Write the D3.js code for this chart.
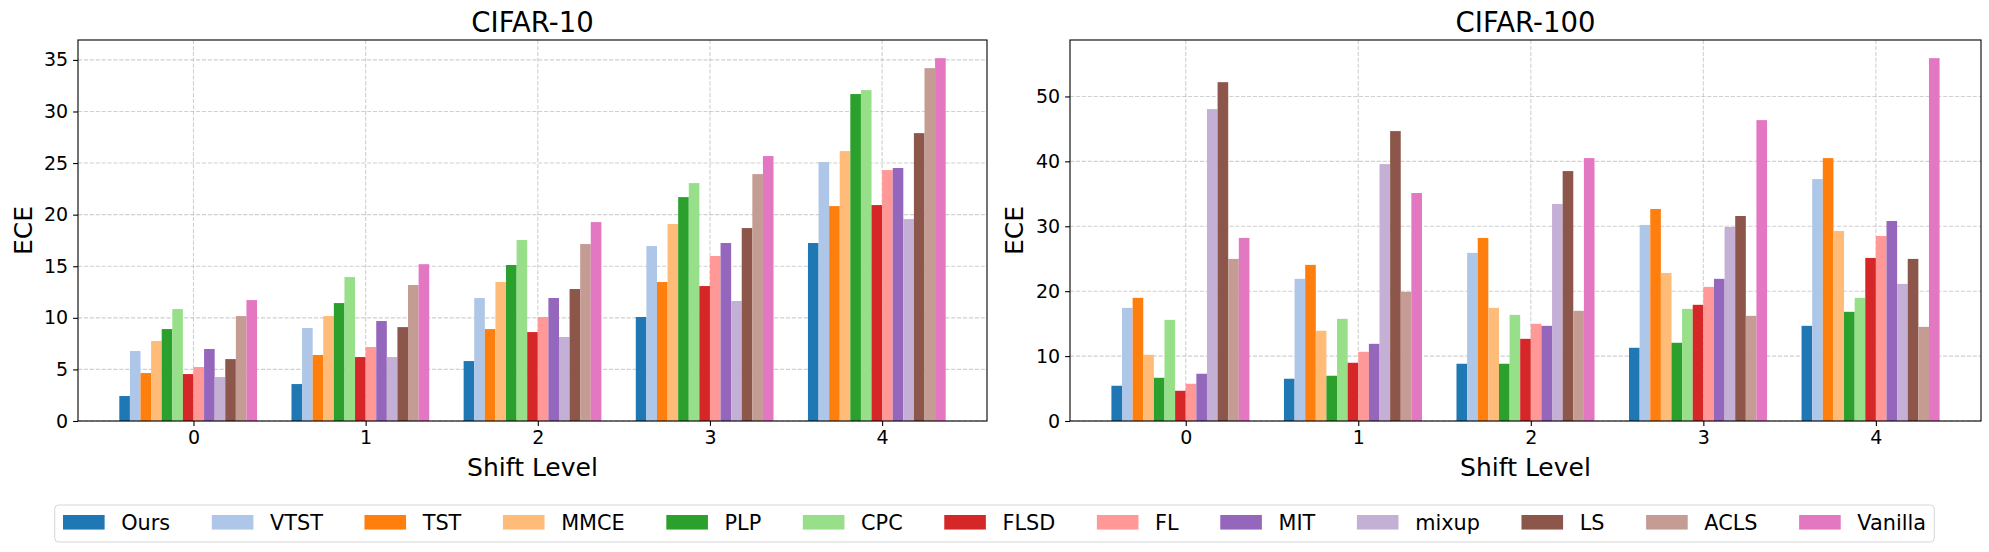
<!DOCTYPE html>
<meta charset="utf-8" />
<script src="https://d3js.org/d3.v7.js"></script>
<style>
  body { margin: 0; background: #fff; }
  text { font-family: "DejaVu Sans", sans-serif; fill: #000; }
</style>
<div id="chart"></div>
<script>
  // methods and colours (tab20)
  const methods = ["Ours", "VTST", "TST", "MMCE", "PLP", "CPC", "FLSD", "FL", "MIT", "mixup", "LS", "ACLS", "Vanilla"];
  const colors = ["#1f77b4", "#aec7e8", "#ff7f0e", "#ffbb78", "#2ca02c", "#98df8a", "#d62728",
    "#ff9896", "#9467bd", "#c5b0d5", "#8c564b", "#c49c94", "#e377c2"];
  const shiftLevels = [0, 1, 2, 3, 4];

  // ECE per method (rows follow `methods`), columns = shift level 0..4
  const cifar10 = [
    [2.42, 3.58, 5.81, 10.08, 17.25],
    [6.78, 9.01, 11.92, 16.96, 25.1],
    [4.65, 6.4, 8.91, 13.47, 20.83],
    [7.75, 10.17, 13.47, 19.09, 26.16],
    [8.91, 11.43, 15.12, 21.7, 31.69],
    [10.85, 13.95, 17.54, 23.06, 32.07],
    [4.55, 6.2, 8.62, 13.08, 20.93],
    [5.23, 7.17, 10.08, 15.99, 24.32],
    [6.98, 9.69, 11.92, 17.25, 24.52],
    [4.26, 6.2, 8.14, 11.63, 19.57],
    [6.0, 9.1, 12.79, 18.7, 27.9],
    [10.17, 13.18, 17.15, 23.93, 34.2],
    [11.72, 15.2, 19.28, 25.68, 35.17]
  ];
  const cifar100 = [
    [5.43, 6.51, 8.82, 11.28, 14.66],
    [17.43, 21.9, 25.9, 30.2, 37.27],
    [18.97, 24.05, 28.2, 32.66, 40.5],
    [10.2, 13.9, 17.43, 22.8, 29.28],
    [6.66, 6.97, 8.82, 12.05, 16.82],
    [15.58, 15.74, 16.35, 17.28, 18.97],
    [4.66, 8.97, 12.66, 17.9, 25.12],
    [5.74, 10.66, 14.97, 20.66, 28.5],
    [7.28, 11.89, 14.66, 21.9, 30.81],
    [48.05, 39.58, 33.43, 29.89, 21.12],
    [52.2, 44.66, 38.5, 31.58, 24.97],
    [24.97, 19.9, 16.97, 16.2, 14.5],
    [28.2, 35.12, 40.5, 46.35, 55.9]
  ];
  const yTicks10 = [0, 5, 10, 15, 20, 25, 30, 35];
  const yTicks100 = [0, 10, 20, 30, 40, 50];

  const W = 1989, H = 552;
  const plotTop = 40, plotBottom = 421;
  const barW = 0.8 / methods.length;

  const svg = d3.select("#chart").append("svg")
    .attr("width", W)
    .attr("height", H);

  function drawPanel(title, data, yTicks, left, right, labelX) {
    const g = svg.append("g");

    // x domain like matplotlib: bar extent plus 5% margins
    const lo = shiftLevels[0] - 0.4 - barW / 2;
    const hi = shiftLevels[shiftLevels.length - 1] - 0.4 + (methods.length - 1) * barW + barW / 2;
    const m = (hi - lo) * 0.05;
    const x = d3.scaleLinear().domain([lo - m, hi + m]).range([left, right]);

    const ymax = d3.max(data, (r) => d3.max(r)) * 1.05;
    const y = d3.scaleLinear().domain([0, ymax]).range([plotBottom, plotTop]);

    // grid
    g.append("g").selectAll("line").data(yTicks).join("line")
      .attr("x1", left).attr("x2", right)
      .attr("y1", (d) => y(d)).attr("y2", (d) => y(d))
      .attr("stroke", "#b0b0b0").attr("stroke-opacity", 0.6)
      .attr("stroke-width", 1.1).attr("stroke-dasharray", "4.1,1.8");
    g.append("g").selectAll("line").data(shiftLevels).join("line")
      .attr("x1", (d) => x(d)).attr("x2", (d) => x(d))
      .attr("y1", plotTop).attr("y2", plotBottom)
      .attr("stroke", "#b0b0b0").attr("stroke-opacity", 0.6)
      .attr("stroke-width", 1.1).attr("stroke-dasharray", "4.1,1.8");

    // bars
    methods.forEach(function (name, i) {
      g.append("g")
        .selectAll("rect")
        .data(data[i])
        .join("rect")
        .attr("x", (d, j) => x(shiftLevels[j] - 0.4 + i * barW - barW / 2))
        .attr("width", x(barW) - x(0))
        .attr("y", (d) => y(d))
        .attr("height", (d) => y(0) - y(d))
        .attr("fill", colors[i]);
    });

    // axes
    const xAxis = d3.axisBottom(x).tickValues(shiftLevels).tickFormat(d3.format("d"))
      .tickSize(4.9).tickPadding(4.9);
    const yAxis = d3.axisLeft(y).tickValues(yTicks).tickFormat(d3.format("d"))
      .tickSize(4.9).tickPadding(4.9);
    const gx = g.append("g").attr("transform", `translate(0,${plotBottom})`).call(xAxis);
    const gy = g.append("g").attr("transform", `translate(${left},0)`).call(yAxis);
    [gx, gy].forEach(function (a) {
      a.select(".domain").remove();
      a.selectAll(".tick line").attr("stroke", "#000").attr("stroke-width", 1.1);
      a.selectAll(".tick text").style("font-size", "19px").attr("fill", "#000")
        .style("font-family", "'DejaVu Sans', sans-serif");
    });

    // frame
    g.append("rect")
      .attr("x", left).attr("y", plotTop)
      .attr("width", right - left).attr("height", plotBottom - plotTop)
      .attr("fill", "none").attr("stroke", "#000").attr("stroke-width", 1.1);

    g.append("text")
      .attr("x", (left + right) / 2).attr("y", 32)
      .attr("text-anchor", "middle")
      .style("font-size", "27.5px")
      .text(title);

    g.append("text")
      .attr("x", (left + right) / 2).attr("y", 476)
      .attr("text-anchor", "middle")
      .style("font-size", "25px")
      .text("Shift Level");

    g.append("text")
      .attr("transform", `translate(${labelX},${(plotTop + plotBottom) / 2}) rotate(-90)`)
      .attr("text-anchor", "middle")
      .style("font-size", "25px")
      .text("ECE");
  }

  drawPanel("CIFAR-10", cifar10, yTicks10, 78, 987, 32);
  drawPanel("CIFAR-100", cifar100, yTicks100, 1070, 1981, 1023);

  // legend (one row)
  const fs = 20.8;
  const legend = svg.append("g");
  const box = legend.append("rect");
  const items = legend.append("g");
  let cx = 0;
  methods.forEach(function (name, i) {
    items.append("rect")
      .attr("x", cx).attr("y", 515)
      .attr("width", 2 * fs).attr("height", 0.7 * fs)
      .attr("fill", colors[i]);
    const t = items.append("text")
      .attr("x", cx + 2.8 * fs).attr("y", 530)
      .style("font-size", fs + "px")
      .text(name);
    cx += 2.8 * fs + t.node().getComputedTextLength();
    if (i < methods.length - 1) cx += 2 * fs;
  });
  const pad = 0.4 * fs;
  const startX = W / 2 - cx / 2;
  items.attr("transform", `translate(${startX},0)`);
  box.attr("x", startX - pad).attr("y", 505)
    .attr("width", cx + 2 * pad).attr("height", 37)
    .attr("rx", 4)
    .attr("fill", "#fff").attr("fill-opacity", 0.8)
    .attr("stroke", "#cccccc").attr("stroke-opacity", 0.8);
</script>
